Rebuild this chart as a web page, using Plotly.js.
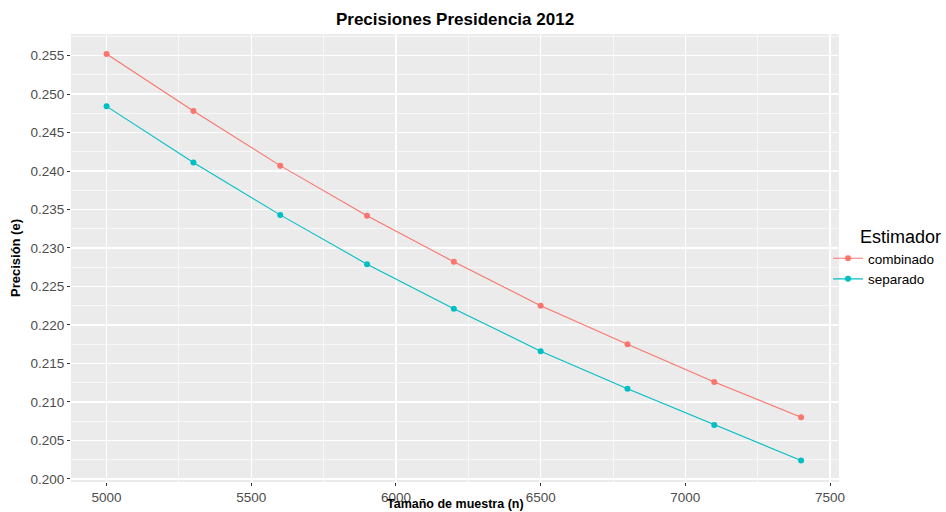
<!DOCTYPE html>
<html>
<head>
<meta charset="utf-8">
<script src="https://cdn.plot.ly/plotly-3.0.1.min.js"></script>
<style>html,body{margin:0;padding:0;background:#fff}#chart{width:946px;height:512px}</style>
</head>
<body>
<div id="chart"></div>
<script>
var sampleSizes = [5000, 5300, 5600, 5900, 6200, 6500, 6800, 7100, 7400];
var combinado = [0.2552, 0.2478, 0.2407, 0.2342, 0.2282, 0.2225, 0.2175, 0.2126, 0.2080];
var separado = [0.2484, 0.2411, 0.2343, 0.2279, 0.2221, 0.2166, 0.2117, 0.2070, 0.2024];
var seriesNames = ["combinado", "separado"];
var seriesColors = ["#F8766D", "#00BFC4"];
var xTicks = [5000, 5500, 6000, 6500, 7000, 7500];
var yTicks = [0.200, 0.205, 0.210, 0.215, 0.220, 0.225, 0.230, 0.235, 0.240, 0.245, 0.250, 0.255];
var xTitle = "Tamaño de muestra (n)";
var yTitle = "Precisión (e)";

var seriesValues = [combinado, separado];
var traces = seriesValues.map(function (vals, i) {
  return {
    x: sampleSizes, y: vals, name: seriesNames[i], type: "scatter", mode: "lines+markers",
    line: {color: seriesColors[i], width: 1.1},
    marker: {color: seriesColors[i], size: 6}
  };
});

var font = "Liberation Sans, Arial, sans-serif";
var layout = {
  width: 946, height: 512,
  margin: {l: 71, r: 107, t: 34, b: 30, autoexpand: false},
  paper_bgcolor: "#ffffff", plot_bgcolor: "#EBEBEB",
  font: {family: font, color: "#000"},
  title: {text: "<b>Precisiones Presidencia 2012</b>", font: {size: 17, family: font, color: "#000"}, x: 0.481, xanchor: "center", y: 0.963, yanchor: "middle"},
  xaxis: {
    range: [4877, 7531], tickvals: xTicks, ticktext: xTicks.map(String),
    showgrid: true, gridcolor: "#ffffff", gridwidth: 1.3, zeroline: false,
    ticks: "outside", ticklen: 3, tickcolor: "#333333", tickwidth: 1,
    tickfont: {size: 13.5, color: "#4D4D4D", family: font},
    minor: {dtick: 250, tick0: 5250, showgrid: true, gridcolor: "#ffffff", gridwidth: 0.6, ticks: ""},
    automargin: false, showline: false
  },
  yaxis: {
    range: [0.1996, 0.2578], tickvals: yTicks, ticktext: yTicks.map(function (v) { return v.toFixed(3); }),
    showgrid: true, gridcolor: "#ffffff", gridwidth: 1.3, zeroline: false,
    ticks: "outside", ticklen: 3, tickcolor: "#333333", tickwidth: 1,
    tickfont: {size: 13.5, color: "#4D4D4D", family: font},
    minor: {dtick: 0.005, tick0: 0.2025, showgrid: true, gridcolor: "#ffffff", gridwidth: 0.6, ticks: ""},
    title: {text: "<b>" + yTitle + "</b>", font: {size: 13, color: "#000", family: font}, standoff: 6},
    automargin: false, showline: false
  },
  annotations: [{
    text: "<b>" + xTitle + "</b>", xref: "paper", yref: "paper", x: 0.5, y: -0.0670,
    xanchor: "center", yanchor: "bottom", showarrow: false, borderpad: 0,
    font: {size: 12.5, color: "#000", family: font}
  }],
  legend: {
    x: 0.9857, xanchor: "left", y: 0.502, yanchor: "middle",
    title: {text: "&nbsp;&nbsp;&nbsp;&nbsp;&nbsp;&nbsp;Estimador", font: {size: 18, color: "#000", family: font}},
    font: {size: 13.5, color: "#000", family: font},
    bgcolor: "rgba(0,0,0,0)", tracegroupgap: 0, itemwidth: 30
  },
  showlegend: true
};

Plotly.newPlot("chart", traces, layout, {displayModeBar: false, staticPlot: true});
</script>
</body>
</html>
